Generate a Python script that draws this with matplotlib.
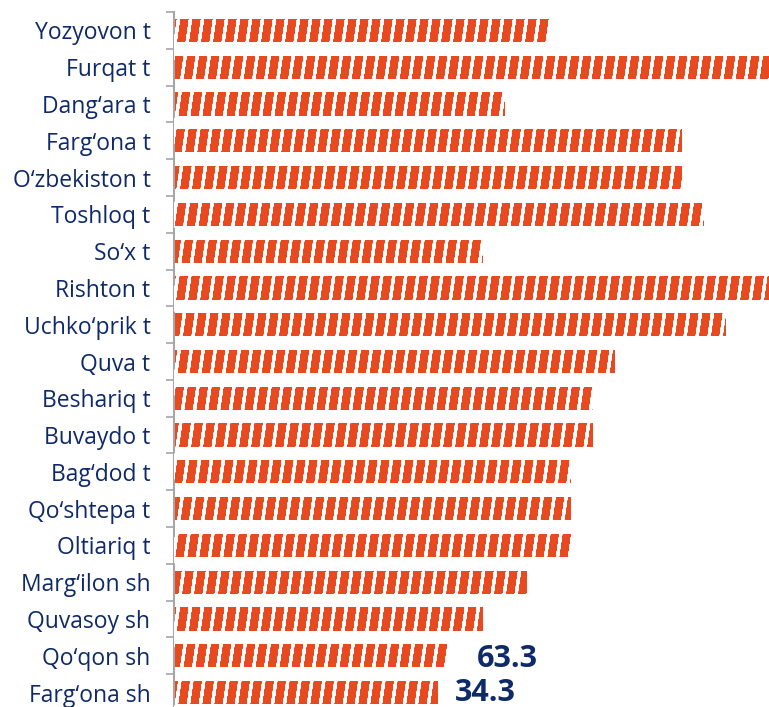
import matplotlib
matplotlib.use("Agg")
import matplotlib.pyplot as plt
import numpy as np
from matplotlib.collections import LineCollection

plt.rcParams['font.family'] = ['Open Sans', 'DejaVu Sans']

districts = ["Yozyovon t", "Furqat t", "Dang‘ara t", "Farg‘ona t", "O‘zbekiston t",
             "Toshloq t", "So‘x t", "Rishton t", "Uchko‘prik t", "Quva t",
             "Beshariq t", "Buvaydo t", "Bag‘dod t", "Qo‘shtepa t", "Oltiariq t",
             "Marg‘ilon sh", "Quvasoy sh", "Qo‘qon sh", "Farg‘ona sh"]
values = [63.0, 105.0, 55.6, 85.4, 85.4,
          89.1, 51.9, 110.0, 92.8, 74.1,
          70.4, 70.4, 66.7, 66.7, 66.7,
          59.3, 51.9, 46.0, 44.4]
# value labels shown only for the last two bars
shown_labels = {17: "63.3", 18: "34.3"}
label_offsets = {17: (21, -2), 18: (12, 0)}  # points from bar end

bar_color = "#E8491F"
text_color = "#0F2A68"

fig = plt.figure(figsize=(7.69, 7.07), dpi=100)
ax = fig.add_axes([174 / 769, -4 / 707, 595 / 769, 699 / 707])

y = np.arange(len(districts))
bars = ax.barh(y, values, height=0.63, color=bar_color, edgecolor="none")

ax.set_xlim(0, 100)
ax.set_ylim(len(districts) - 0.5, -0.5)

# white slanted stripes inside each bar
period = 12 / 595
slant = 100 / 595
starts = np.arange(-0.3, 1.05, period)
segs = [[(s, 0), (s + slant, 1)] for s in starts]
for b in bars:
    lc = LineCollection(segs, colors="white", linewidths=2.0,
                        transform=ax.transAxes, zorder=3)
    lc.set_clip_path(b)
    ax.add_collection(lc)

for i, txt in shown_labels.items():
    ax.annotate(txt, xy=(values[i], y[i]), xytext=label_offsets[i],
                textcoords="offset points", ha="left", va="center",
                fontsize=22, fontweight="bold", color=text_color)

ax.set_yticks(y)
ax.set_yticklabels(districts, fontsize=16.5, color=text_color)
ax.tick_params(axis="y", which="major", length=0, pad=17)
ax.set_yticks(np.arange(-0.5, len(districts), 1), minor=True)
ax.tick_params(axis="y", which="minor", length=6, width=1.2, color="#A6A6A6")
ax.set_xticks([])

for side in ["top", "right", "bottom"]:
    ax.spines[side].set_visible(False)
ax.spines["left"].set_color("#A6A6A6")
ax.spines["left"].set_linewidth(1.5)

fig.savefig("out.png", dpi=100)
